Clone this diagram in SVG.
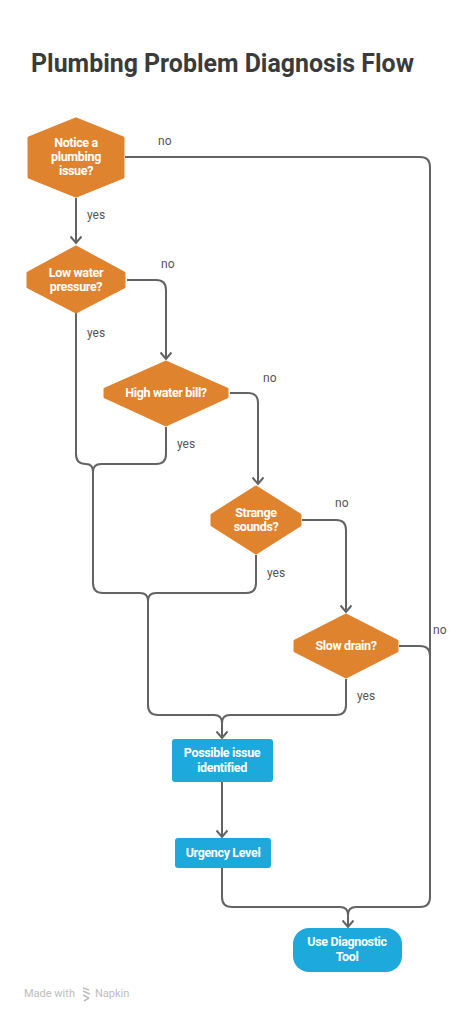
<svg xmlns="http://www.w3.org/2000/svg" width="473" height="1021" viewBox="0 0 473 1021">
<style>
.title{font-family:Roboto,"Liberation Sans",sans-serif;font-weight:700;font-size:24.9px;fill:#3b3b3b}
.dec{fill:#E0832F;stroke:#E0832F;stroke-width:3;stroke-linejoin:round}
.box{fill:#1EA9DC}
.nt{font-family:Roboto,"Liberation Sans",sans-serif;font-weight:700;font-size:12.5px;fill:#fff;text-anchor:middle;letter-spacing:-0.35px}
.lbl{font-family:Roboto,"Liberation Sans",sans-serif;font-size:12px;fill:#555}
.c{fill:none;stroke:#636363;stroke-width:2}
.foot{font-family:Roboto,"Liberation Sans",sans-serif;font-size:11px;fill:#bdbdbd}
</style>
<defs>
<marker id="ar" viewBox="0 0 12 12" refX="10.5" refY="6" markerWidth="12" markerHeight="12" markerUnits="userSpaceOnUse" orient="auto">
<path d="M4,0.5 L10.5,6 L4,11.5" fill="none" stroke="#636363" stroke-width="2"/>
</marker>
</defs>
<rect width="473" height="1021" fill="#fff"/>
<text class="title" x="31" y="72">Plumbing Problem Diagnosis Flow</text>

<g id="connectors">
<path class="c" d="M76,198 V243" marker-end="url(#ar)"/>
<path class="c" d="M125,157 H420 Q430,157 430,167 V897 Q430,907 420,907 H356 Q348,907 348,915 V927" marker-end="url(#ar)"/>
<path class="c" d="M399,646 H420 Q430,646 430,656 V700"/>
<path class="c" d="M127,280 H156 Q166,280 166,290 V359" marker-end="url(#ar)"/>
<path class="c" d="M230,393 H248 Q258,393 258,403 V484" marker-end="url(#ar)"/>
<path class="c" d="M302,520 H336 Q346,520 346,530 V612" marker-end="url(#ar)"/>
<path class="c" d="M76,313 V454 Q76,464 86,464 H86 Q93,464 93,472 V583 Q93,593 103,593 H140 Q148,593 148,601 V705 Q148,715 158,715 H214 Q222,715 222,723 V738" marker-end="url(#ar)"/>
<path class="c" d="M166,427 V454 Q166,464 156,464 H101 Q93,464 93,472"/>
<path class="c" d="M256,555 V583 Q256,593 246,593 H156 Q148,593 148,601"/>
<path class="c" d="M346,679 V705 Q346,715 336,715 H230 Q222,715 222,723"/>
<path class="c" d="M222,782 V837" marker-end="url(#ar)"/>
<path class="c" d="M222,868 V897 Q222,907 232,907 H340 Q348,907 348,915"/>
<text class="lbl" x="158" y="145">no</text>
<text class="lbl" x="87" y="219">yes</text>
<text class="lbl" x="161" y="268">no</text>
<text class="lbl" x="87" y="337">yes</text>
<text class="lbl" x="263" y="382">no</text>
<text class="lbl" x="177" y="448">yes</text>
<text class="lbl" x="335" y="507">no</text>
<text class="lbl" x="267" y="577">yes</text>
<text class="lbl" x="433" y="634">no</text>
<text class="lbl" x="357" y="700">yes</text>
</g>

<g id="n1">
<polygon class="dec" points="76,119 123,138 123,177 76,196 29,177 29,138"/>
<text class="nt" x="76" y="147">Notice a</text>
<text class="nt" x="76" y="161">plumbing</text>
<text class="nt" x="76" y="175">issue?</text>
</g>
<g id="n2">
<polygon class="dec" points="76,247 124,273 124,287 76,312 28,287 28,273"/>
<text class="nt" x="76" y="277">Low water</text>
<text class="nt" x="76" y="291">pressure?</text>
</g>
<g id="n3">
<polygon class="dec" points="166,362 227,389 227,397 166,425 105,397 105,389"/>
<text class="nt" x="166" y="397">High water bill?</text>
</g>
<g id="n4">
<polygon class="dec" points="256,487 300,515 300,525 256,553 212,525 212,515"/>
<text class="nt" x="256" y="517">Strange</text>
<text class="nt" x="256" y="531">sounds?</text>
</g>
<g id="n5">
<polygon class="dec" points="346,615 397,641 397,651 346,677 295,651 295,641"/>
<text class="nt" x="346" y="650">Slow drain?</text>
</g>
<g id="n6">
<rect class="box" x="172" y="739" width="101" height="43" rx="3"/>
<text class="nt" x="222" y="757">Possible issue</text>
<text class="nt" x="222" y="772">identified</text>
</g>
<g id="n7">
<rect class="box" x="175" y="838" width="96" height="30" rx="3"/>
<text class="nt" x="223" y="857">Urgency Level</text>
</g>
<g id="n8">
<rect class="box" x="293" y="928" width="109" height="44" rx="16"/>
<text class="nt" x="347" y="946">Use Diagnostic</text>
<text class="nt" x="347" y="961">Tool</text>
</g>

<g id="footer">
<text class="foot" x="24" y="997">Made with</text>
<path d="M83,988 L89,990 M83,991 L90,994 M83,995 L89,998 M84,1001 L89,998" fill="none" stroke="#bdbdbd" stroke-width="1.5"/>
<text class="foot" x="95" y="997">Napkin</text>
</g>
</svg>
